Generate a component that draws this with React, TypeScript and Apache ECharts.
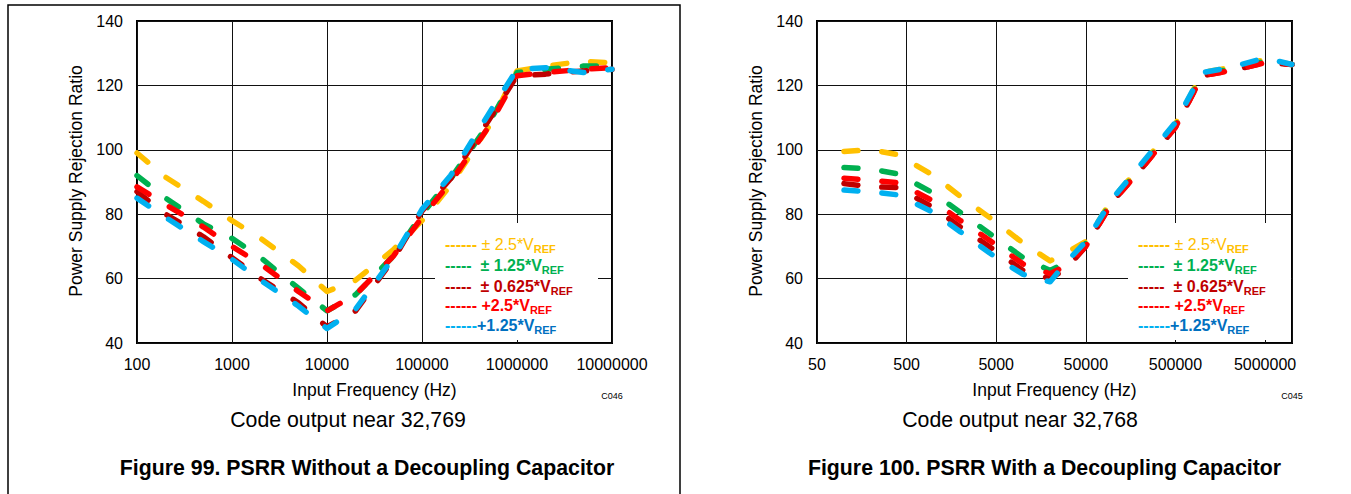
import { useEffect, useRef } from 'react';
import * as echarts from 'echarts';

// ---------- data ----------
const FREQ_LEFT = [100, 200, 500, 1000, 2000, 5000, 10000, 20000, 50000, 100000, 200000, 500000, 1000000, 2000000, 5000000, 10000000];
const L_PM2_5 = [99, 91.5, 84, 78, 72.5, 64, 56, 59.5, 69, 78, 89, 107, 124.5, 126, 127.5, 127];
const L_PM1_25 = [92, 85, 77, 72.5, 66.5, 57, 50, 55, 67, 80, 91, 108, 124, 125, 126, 126];
const L_PM0_625 = [87, 80, 73, 66.5, 60, 52.5, 45, 50, 66, 81, 91, 109, 123, 123.5, 124.5, 125];
const L_P2_5 = [88.5, 83, 76, 70, 64.5, 56, 50, 55, 67, 79, 90, 107, 123, 124, 125, 125.5];
const L_P1_25 = [85, 79, 71.5, 66, 59.5, 51.5, 44.5, 50.5, 66.5, 81.5, 92, 111, 125, 125.5, 124, 125];

const FREQ_RIGHT = [100, 200, 400, 1000, 2000, 5000, 10000, 20000, 30000, 50000, 100000, 200000, 500000, 1000000, 2000000, 5000000, 10000000];
const R_PM2_5 = [99.5, 100, 98.5, 92, 85.5, 77.5, 71, 65.5, 68, 71.5, 85, 94.5, 108, 124, 125.5, 128, 126.5];
const R_PM1_25 = [94.5, 94, 92.5, 86.5, 80.5, 72.5, 66.5, 62.5, 65, 71, 84.5, 94, 107.5, 123.5, 125, 127.5, 126.5];
const R_PM0_625 = [89.5, 88.5, 88.3, 82, 76, 68.5, 62.5, 60, 63, 70, 84, 93.5, 107, 123, 124.5, 127, 126.5];
const R_P2_5 = [91.2, 90.5, 89.8, 84, 78, 70.5, 64.5, 61.5, 64, 70, 84, 93.5, 107, 123, 124.5, 127, 126.5];
const R_P1_25 = [87.5, 87, 86, 80.5, 74.5, 66.5, 61.3, 59, 65, 71.5, 85, 95, 108.5, 124, 125.5, 128.5, 126.5];

const X_TICKS_LEFT = ['100', '1000', '10000', '100000', '1000000', '10000000'];
const X_TICKS_RIGHT = ['50', '500', '5000', '50000', '500000', '5000000'];
const LEFT_BASE = 100;
const RIGHT_BASE = 50;
const X_MAX_HZ = 10000000;

const SERIES_NAMES = ['± 2.5*VREF', '± 1.25*VREF', '± 0.625*VREF', '+2.5*VREF', '+1.25*VREF'];
const SERIES_COLORS = ['#FFC000', '#00B050', '#C00000', '#FF0000', '#00B0F0'];
const LEGEND_DASH = ['------', '-----  ', '-----  ', '------', '------'];
const LEGEND_LABEL = [' ± 2.5*V', '± 1.25*V', '± 0.625*V', ' +2.5*V', '+1.25*V'];
const LEGEND_TEXT_COLORS = ['#FFC000', '#00B050', '#C00000', '#FF0000', '#0070C0'];
const LEGEND_BOLD = [false, true, true, true, true];

const FONT = "'Liberation Sans', Arial, Helvetica, sans-serif";

export default function App() {
  const ref = useRef<HTMLDivElement>(null);

  useEffect(() => {
    if (!ref.current) return;
    const chart = echarts.init(ref.current, null, { renderer: 'svg' });

    const leftSets = [L_PM2_5, L_PM1_25, L_PM0_625, L_P2_5, L_P1_25];
    const rightSets = [R_PM2_5, R_PM1_25, R_PM0_625, R_P2_5, R_P1_25];

    const mkSeries = (freqs: number[], vals: number[], base: number, idx: number, si: number) => ({
      type: 'line',
      name: SERIES_NAMES[si],
      xAxisIndex: idx,
      yAxisIndex: idx,
      data: freqs.map((f, i) => [Math.log10(f / base), vals[i]]),
      showSymbol: false,
      symbol: 'none',
      smooth: false,
      z: 2 + si,
      lineStyle: {
        color: SERIES_COLORS[si],
        width: 5.5,
        type: [14, 24],
        cap: 'round',
        join: 'round',
      },
    });

    const series: any[] = [];
    leftSets.forEach((v, si) => series.push(mkSeries(FREQ_LEFT, v, LEFT_BASE, 0, si)));
    rightSets.forEach((v, si) => series.push(mkSeries(FREQ_RIGHT, v, RIGHT_BASE, 1, si)));

    const gridCommon = { top: 21, height: 322, width: 475, show: true, borderColor: '#000', borderWidth: 2, containLabel: false };

    const yAxisCommon = (gi: number) => ({
      type: 'value',
      gridIndex: gi,
      min: 40,
      max: 140,
      interval: 20,
      axisLine: { show: false },
      axisTick: { show: false },
      axisLabel: { fontSize: 16, color: '#000', margin: 14, fontFamily: FONT },
      splitLine: { show: true, lineStyle: { color: '#111', width: 1 } },
    });

    const xAxisCommon = (gi: number, max: number, ticks: string[]) => ({
      type: 'value',
      gridIndex: gi,
      min: 0,
      max,
      interval: 1,
      axisLine: { show: false },
      axisTick: { show: false },
      axisLabel: {
        fontSize: 16,
        color: '#000',
        margin: 13,
        fontFamily: FONT,
        showMaxLabel: gi === 0,
        formatter: (v: number) => {
          const i = Math.round(v);
          return Math.abs(v - i) < 1e-6 && ticks[i] !== undefined ? ticks[i] : '';
        },
      },
      splitLine: { show: true, lineStyle: { color: '#111', width: 1 } },
    });

    const txt = (x: number, y: number, text: string, size: number, opts: any = {}) => ({
      type: 'text',
      x,
      y,
      z: 120,
      rotation: opts.rotation || 0,
      style: {
        text,
        fontSize: size,
        fontFamily: FONT,
        fontWeight: opts.bold ? 'bold' : 'normal',
        fill: opts.fill || '#000',
        align: opts.align || 'center',
        verticalAlign: 'middle',
        textAlign: opts.align || 'center',
        textVerticalAlign: 'middle',
      },
    });

    const legendEls = (xStart: number, boxX: number) => {
      const els: any[] = [
        { type: 'rect', z: 110, shape: { x: boxX, y: 223, width: 163, height: 117 }, style: { fill: '#fff', stroke: 'none' } },
      ];
      const ys = [244, 265.5, 286, 305.5, 325];
      LEGEND_LABEL.forEach((lab, i) => {
        const w = LEGEND_BOLD[i] ? 'bold' : 'normal';
        els.push({
          type: 'text',
          x: xStart,
          y: ys[i],
          z: 120,
          style: {
            text: `{d|${LEGEND_DASH[i]}}{t|${lab}}{s|REF}`,
            align: 'left',
            verticalAlign: 'middle',
            textAlign: 'left',
            textVerticalAlign: 'middle',
            rich: {
              d: { fontSize: 16, fontWeight: 'bold', fontFamily: FONT, fill: SERIES_COLORS[i], lineHeight: 20 },
              t: { fontSize: 16, fontWeight: w, fontFamily: FONT, fill: LEGEND_TEXT_COLORS[i], lineHeight: 20 },
              s: { fontSize: 11, fontWeight: 'bold', fontFamily: FONT, fill: LEGEND_TEXT_COLORS[i], lineHeight: 13, verticalAlign: 'bottom' },
            },
          },
        });
      });
      return els;
    };

    const graphic: any[] = [
      { type: 'polyline', z: 120, shape: { points: [[8, 494], [8, 5], [680, 5], [680, 494]] }, style: { stroke: '#000', lineWidth: 1.5, fill: 'none' } },
      txt(76, 181, 'Power Supply Rejection Ratio', 17.5, { rotation: Math.PI / 2 }),
      txt(756, 181, 'Power Supply Rejection Ratio', 17.5, { rotation: Math.PI / 2 }),
      txt(374.5, 390, 'Input Frequency (Hz)', 17.5),
      txt(1054.5, 390, 'Input Frequency (Hz)', 17.5),
      txt(612, 396, 'C046', 9),
      txt(1292, 396, 'C045', 9),
      txt(348, 420, 'Code output near 32,769', 21.3),
      txt(1020, 420, 'Code output near 32,768', 21.3),
      txt(367, 468, 'Figure 99. PSRR Without a Decoupling Capacitor', 21.3, { bold: true }),
      txt(1044.5, 468, 'Figure 100. PSRR With a Decoupling Capacitor', 21.3, { bold: true }),
      ...legendEls(445, 435),
      ...legendEls(1138, 1128),
    ];

    chart.setOption({
      animation: false,
      backgroundColor: '#fff',
      textStyle: { fontFamily: FONT },
      grid: [
        { ...gridCommon, left: 137 },
        { ...gridCommon, left: 817 },
      ],
      xAxis: [
        xAxisCommon(0, Math.log10(X_MAX_HZ / LEFT_BASE), X_TICKS_LEFT),
        xAxisCommon(1, Math.log10(X_MAX_HZ / RIGHT_BASE), X_TICKS_RIGHT),
      ],
      yAxis: [yAxisCommon(0), yAxisCommon(1)],
      series,
      graphic,
    });

    return () => chart.dispose();
  }, []);

  return (
    <div
      ref={ref}
      style={{ position: 'fixed', left: 0, top: 0, width: 1351, height: 494, background: '#fff' }}
    />
  );
}
